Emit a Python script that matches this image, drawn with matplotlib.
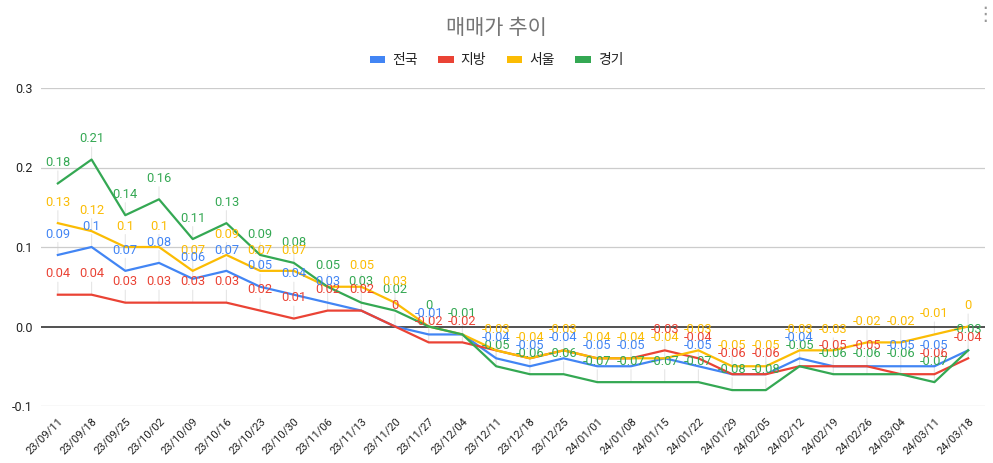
import matplotlib
matplotlib.use("Agg")
import matplotlib.pyplot as plt
from matplotlib.patches import Patch
import numpy as np

dates = ["23/09/11","23/09/18","23/09/25","23/10/02","23/10/09","23/10/16","23/10/23","23/10/30",
         "23/11/06","23/11/13","23/11/20","23/11/27","23/12/04","23/12/11","23/12/18","23/12/25",
         "24/01/01","24/01/08","24/01/15","24/01/22","24/01/29","24/02/05","24/02/12","24/02/19",
         "24/02/26","24/03/04","24/03/11","24/03/18"]

national = [0.09,0.10,0.07,0.08,0.06,0.07,0.05,0.04,0.03,0.02,0,-0.01,-0.01,-0.04,-0.05,-0.04,
            -0.05,-0.05,-0.04,-0.05,-0.06,-0.06,-0.04,-0.05,-0.05,-0.05,-0.05,-0.03]
regional = [0.04,0.04,0.03,0.03,0.03,0.03,0.02,0.01,0.02,0.02,0,-0.02,-0.02,-0.03,-0.04,-0.03,
            -0.04,-0.04,-0.03,-0.04,-0.06,-0.06,-0.05,-0.05,-0.05,-0.06,-0.06,-0.04]
seoul = [0.13,0.12,0.10,0.10,0.07,0.09,0.07,0.07,0.05,0.05,0.03,0,-0.01,-0.03,-0.04,-0.03,
         -0.04,-0.04,-0.04,-0.03,-0.05,-0.05,-0.03,-0.03,-0.02,-0.02,-0.01,0]
gyeonggi = [0.18,0.21,0.14,0.16,0.11,0.13,0.09,0.08,0.05,0.03,0.02,0,-0.01,-0.05,-0.06,-0.06,
            -0.07,-0.07,-0.07,-0.07,-0.08,-0.08,-0.05,-0.06,-0.06,-0.06,-0.07,-0.03]

series_names = ["전국", "지방", "서울", "경기"]
series_values = [national, regional, seoul, gyeonggi]
colors = ["#4285F4", "#EA4335", "#FBBC04", "#34A853"]
yticks = [-0.1, 0.0, 0.1, 0.2, 0.3]

plt.rcParams['font.family'] = ['Roboto', 'Noto Sans CJK KR', 'DejaVu Sans']

fig = plt.figure(figsize=(9.93, 4.63), dpi=100)
ax = fig.add_axes([41/993, 1-406/463, (985-41)/993, (406-88)/463])

x = np.arange(len(dates))
for vals, c in zip(series_values, colors):
    ax.plot(x, vals, color=c, lw=1.6, zorder=3, solid_joinstyle='round')

# data labels: later series have priority; identical values at same point are hidden
shown = [set() for _ in dates]
for vals, c in reversed(list(zip(series_values, colors))):
    for i, v in enumerate(vals):
        key = round(v, 3)
        if key in shown[i]:
            continue
        shown[i].add(key)
        # faint annotation stem
        ax.annotate("", xy=(i, v), xytext=(0, 9), textcoords='offset points',
                    arrowprops=dict(arrowstyle='-', color='#e6e6e6', lw=0.8,
                                    shrinkA=0, shrinkB=0), zorder=1)
        ax.annotate(f"{v:g}", (i, v), xytext=(0, 15), textcoords='offset points',
                    ha='center', va='center', color=c, fontsize=9.3, zorder=4)

ax.set_xlim(-0.5, len(dates) - 0.5)
ax.set_ylim(-0.1, 0.3)
ax.set_yticks(yticks)
ax.set_yticklabels([f"{t:.1f}" for t in yticks], fontsize=9, color="#222222")
ax.set_xticks(x)
ax.set_xticklabels(dates, rotation=45, ha='right', rotation_mode='anchor', fontsize=8, color="#222222")
ax.tick_params(axis='both', length=0)
ax.tick_params(axis='y', pad=6)
ax.tick_params(axis='x', pad=7)
for s in ax.spines.values():
    s.set_visible(False)
for t in yticks:
    if t == 0:
        ax.axhline(t, color="#333333", lw=1.2, zorder=2)
    else:
        ax.axhline(t, color="#cccccc", lw=0.9, zorder=1)

fig.text(0.5, 1-28/463, "매매가 추이", ha='center', va='center', fontsize=15, color="#757575")
handles = [Patch(facecolor=c, edgecolor='none') for c in colors]
leg = fig.legend(handles, series_names, loc='center', bbox_to_anchor=(0.5, 1-60/463), ncol=4,
                 frameon=False, fontsize=10, handlelength=1.1, handleheight=0.4,
                 handletextpad=0.5, columnspacing=1.5)
for t in leg.get_texts():
    t.set_color("#222222")
fig.text(985/993, 1-15/463, "⋮", ha='center', va='center', fontsize=14, color="#999999",
         family=['DejaVu Sans'])

fig.savefig("out.png", dpi=100)
